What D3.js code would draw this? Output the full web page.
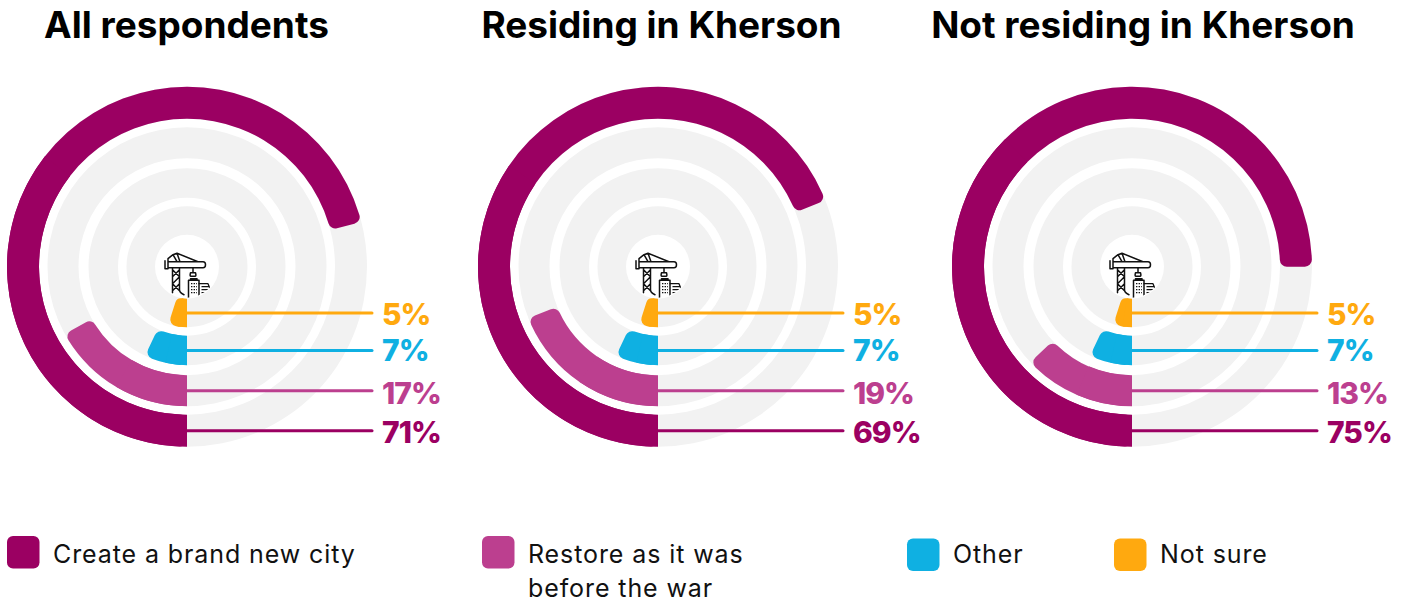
<!DOCTYPE html>
<html>
<head>
<meta charset="utf-8">
<script src="https://cdn.jsdelivr.net/npm/d3@7"></script>
<style>
html, body { margin: 0; padding: 0; background: #fff; }
svg { display: block; }
text { font-family: Inter, "Noto Sans", sans-serif; }
</style>
</head>
<body>
<div class="chart"></div>
<script>
// Data
const panelTitles = ['All respondents', 'Residing in Kherson', 'Not residing in Kherson'];
const answers = ['Create a brand new city', 'Restore as it was before the war', 'Other', 'Not sure'];
const allRespondents = [71, 17, 7, 5];
const residing = [69, 19, 7, 5];
const notResiding = [75, 13, 7, 5];
const panelValues = [allRespondents, residing, notResiding];
const colors = ['#9b0062', '#bc3f8f', '#0fb0e2', '#ffa90f'];

const svg_width = 1407;
const svg_height = 603;
const centers = [187, 658, 1132];
const titleCenters = [186.5, 661.5, 1143];
const cy = 266.7;

const svg = d3.select('.chart').append('svg')
    .attr('width', svg_width).attr('height', svg_height);

// 從6點鐘方向順時針
const angle = d3.scaleLinear([0, 100], [Math.PI, 3 * Math.PI]);
// 每個答案一圈，每圈的寬度不太一樣
const ringOuter = [180, 139.5, 98.5, 60.5];
const ringInner = [148, 108.5, 69, 32];
const ringMid = i => (ringOuter[i] + ringInner[i]) / 2;
// 數字跟線的垂直距離
const labelOffset = [12, 13.5, 11, 12.5];

const roundArc = d3.arc().cornerRadius(7);
const flatArc = d3.arc();

function drawPanel(g, values, k) {
    // gray tracks
    g.selectAll('.track').data(values).join('path').attr('class', 'track')
        .attr('d', (d, i) => flatArc({innerRadius: ringInner[i], outerRadius: ringOuter[i], startAngle: 0, endAngle: 2 * Math.PI}))
        .attr('fill', '#f2f2f2');

    // 只有結束端是圓角：先畫圓角的arc，再蓋一段直角的
    g.selectAll('.bar').data(values).join('path').attr('class', 'bar')
        .attr('d', (d, i) => roundArc({innerRadius: ringInner[i], outerRadius: ringOuter[i], startAngle: angle(0), endAngle: angle(d)}))
        .attr('fill', (d, i) => colors[i]);
    g.selectAll('.bar-start').data(values).join('path').attr('class', 'bar-start')
        .attr('d', (d, i) => flatArc({innerRadius: ringInner[i], outerRadius: ringOuter[i], startAngle: angle(0), endAngle: angle(d / 2)}))
        .attr('fill', (d, i) => colors[i]);

    // leader lines
    g.selectAll('.leader').data(values).join('line').attr('class', 'leader')
        .attr('x1', 0).attr('x2', 185)
        .attr('y1', (d, i) => ringMid(i)).attr('y2', (d, i) => ringMid(i))
        .attr('stroke', (d, i) => colors[i])
        .attr('stroke-width', 3).attr('stroke-linecap', 'round');

    g.selectAll('.value').data(values).join('text').attr('class', 'value')
        .attr('x', 195).attr('y', (d, i) => ringMid(i) + labelOffset[i])
        .attr('font-size', 30).attr('font-weight', 800).attr('letter-spacing', -1)
        .attr('fill', (d, i) => colors[i])
        .text(d => d + '%');

    drawCrane(g, k);
}

// 中間的起重機icon
function drawCrane(g, k) {
    const clipId = 'crane-clip-' + k;
    g.append('clipPath').attr('id', clipId).append('circle').attr('r', 31);
    const icon = g.append('g').attr('clip-path', `url(#${clipId})`)
        .attr('fill', 'none').attr('stroke', '#111').attr('stroke-width', 1.5)
        .attr('stroke-linejoin', 'round').attr('stroke-linecap', 'round');
    // jib, counterweight and apex
    icon.append('path').attr('d', 'M-19,-5 H16 Q18.500,-5 18.500,-2 Q18.500,1 16,1 H-19 M-22,-6 V2 H-19 V-8 L-14,-12 L-10,-13.500 L-7,-5 M-14,-12 L-10,-5 M-10,-13.500 L11,-5');
    // tower
    icon.append('path').attr('d', 'M-14.500,1 V26 M-7.500,1 V23 Q-7.500,26 -3,28 M-14.500,3 L-7.500,10 L-14.500,17 L-7.500,24 M-7.500,3 L-14.500,10 M-7.500,17 L-14.500,24');
    // hook
    icon.append('path').attr('d', 'M6,1 V6 M3.500,6 H8.500 Q9.500,9.500 8,9.500 H4 Q2.500,9.500 3.500,6 Z');
    // buildings
    icon.append('path').attr('d', 'M1.500,31 V13.500 H12 V31 M3.500,13 V12 H10 V13');
    icon.append('path').attr('d', 'M12,17 H21 L23,22 M15,20 H21 M15,23 H21 M15,26 H20').attr('stroke-width', 1.3);
    icon.append('path').attr('d', 'M4,17 H10 M4,20 H10 M4,23 H10 M4,26 H10')
        .attr('stroke-width', 1.3).attr('stroke-dasharray', '1.400 1.200').attr('stroke-linecap', 'butt');
}

svg.selectAll('.panel').data(panelValues).join('g').attr('class', 'panel')
    .attr('transform', (d, i) => `translate(${centers[i]},${cy})`)
    .each(function(d, i) { drawPanel(d3.select(this), d, i); });

svg.selectAll('.title').data(panelTitles).join('text').attr('class', 'title')
    .attr('x', (d, i) => titleCenters[i]).attr('y', 38)
    .attr('text-anchor', 'middle')
    .attr('font-size', 37).attr('font-weight', 700).attr('fill', '#000')
    .text(d => d);

// Legend
const legendX = [7, 482, 907, 1114];
const legendY = [536, 536, 538.500, 538.500];
const legendLines = [[answers[0]], ['Restore as it was', 'before the war'], [answers[2]], [answers[3]]];
const legend = svg.selectAll('.legend').data(answers).join('g').attr('class', 'legend');
legend.append('rect')
    .attr('x', (d, i) => legendX[i]).attr('y', (d, i) => legendY[i])
    .attr('width', 32.5).attr('height', 32.5).attr('rx', 6)
    .attr('fill', (d, i) => colors[i]);
legend.each(function(d, i) {
    d3.select(this).selectAll('text').data(legendLines[i]).join('text')
        .attr('x', legendX[i] + 46).attr('y', (t, j) => 562.5 + j * 34.5)
        .attr('font-size', 25).attr('letter-spacing', 0.9).attr('fill', '#111')
        .text(t => t);
});
</script>
</body>
</html>
